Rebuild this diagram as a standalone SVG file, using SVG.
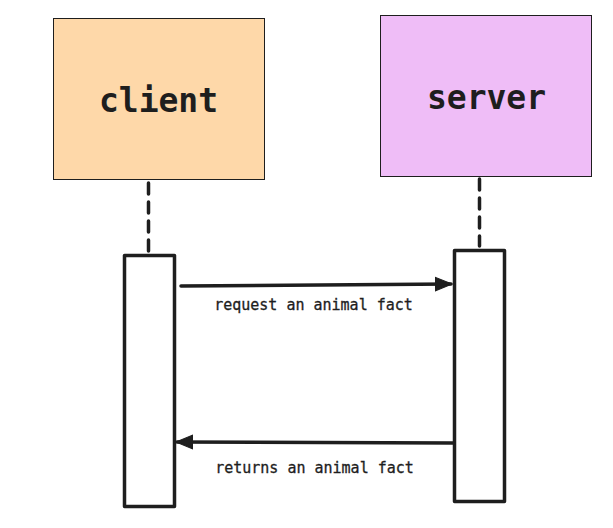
<svg xmlns="http://www.w3.org/2000/svg" width="613" height="528" viewBox="0 0 613 528">
<style>
.actor{stroke:#1e1e1e;stroke-width:1}
.title{font-family:"DejaVu Sans Mono",monospace;font-size:33px;font-weight:bold;fill:#1e1e1e;text-anchor:middle}
.life{stroke:#1e1e1e;stroke-width:3.5;stroke-dasharray:11 8;stroke-linecap:round;fill:none}
.act{fill:#ffffff;stroke:#1e1e1e;stroke-width:3.5;stroke-linejoin:round}
.msg{stroke:#1e1e1e;stroke-width:3.5;fill:none;stroke-linecap:round}
.lbl{font-family:"DejaVu Sans Mono",monospace;font-size:15px;fill:#1e1e1e;text-anchor:middle;stroke:#1e1e1e;stroke-width:0.3}
</style>
<defs>
<marker id="ah2" markerWidth="18" markerHeight="18" refX="16" refY="9" orient="auto" markerUnits="userSpaceOnUse" viewBox="0 0 18 18">
<path d="M0,2 L17,9 L0,16 Z" fill="#1e1e1e" stroke="#1e1e1e" stroke-linejoin="round"/>
</marker>
</defs>
<rect width="613" height="528" fill="#ffffff"/>
<g id="client">
<rect class="actor" x="53.5" y="18.5" width="211" height="161" fill="#fed8a9"/>
<text class="title" x="158.5" y="112">client</text>
</g>
<g id="server">
<rect class="actor" x="380.5" y="15.5" width="211" height="161" fill="#efbdf7"/>
<text class="title" x="486.5" y="109">server</text>
</g>
<g id="client-activation">
<rect class="act" x="124.5" y="255.5" width="50" height="251"/>
</g>
<g id="server-activation">
<rect class="act" x="454.5" y="250.5" width="50" height="251"/>
</g>
<g id="connectors">
<line class="life" x1="148.5" y1="183" x2="148.5" y2="251"/>
<line class="life" x1="479.5" y1="179" x2="479.5" y2="246"/>
<line class="msg" x1="181" y1="286" x2="451" y2="284" marker-end="url(#ah2)"/>
<line class="msg" x1="453" y1="443" x2="177" y2="442" marker-end="url(#ah2)"/>
</g>
<g id="labels">
<text class="lbl" x="313.5" y="310">request an animal fact</text>
<text class="lbl" x="314.5" y="473">returns an animal fact</text>
</g>
</svg>
